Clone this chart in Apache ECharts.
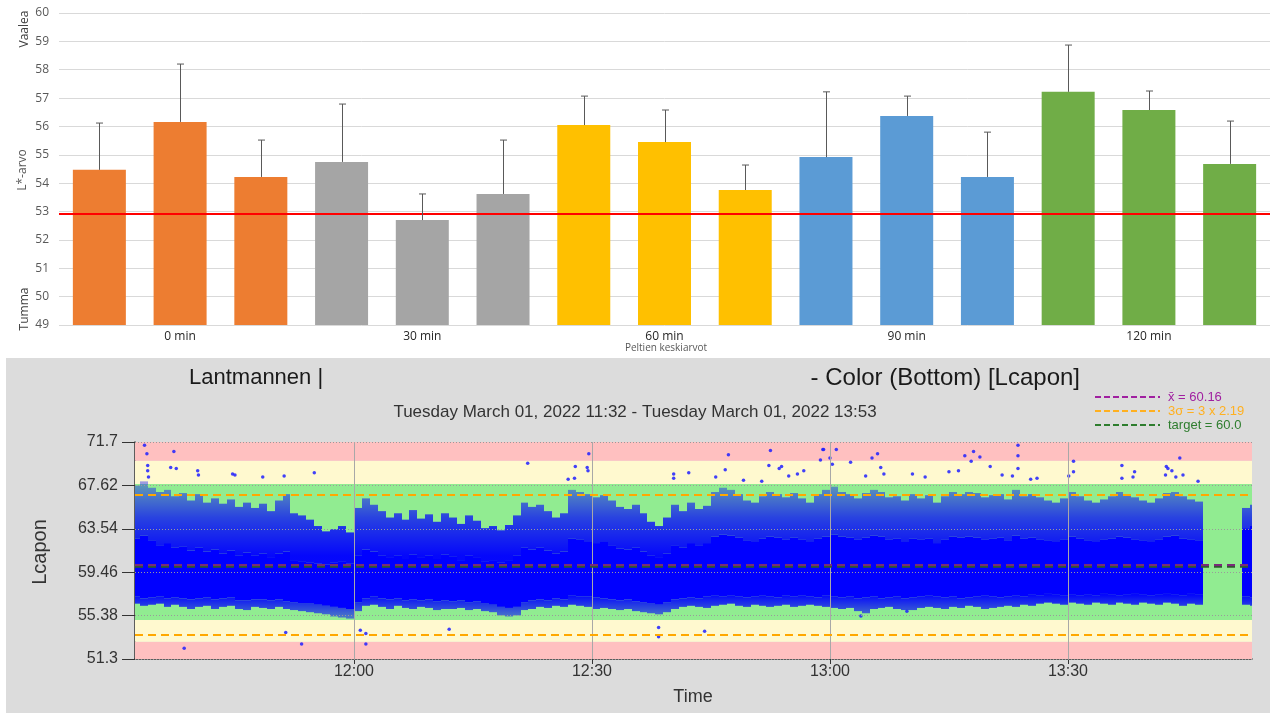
<!DOCTYPE html>
<html><head><meta charset="utf-8">
<script src="https://cdn.jsdelivr.net/npm/echarts@6/dist/echarts.min.js"></script>
<style>html,body{margin:0;padding:0;background:#fff}#c{width:1270px;height:713px}</style>
</head><body><div id="c"></div>
<script>
// ================= TOP CHART DATA =================
const groupLabels = ['0 min', '30 min', '60 min', '90 min', '120 min'];
const barValues   = [54.47, 56.16, 54.22, 54.75, 52.70, 53.62, 56.05, 55.45, 53.76, 54.92, 56.37, 54.22, 57.22, 56.58, 54.68];
const barErrTops  = [56.12, 58.20, 55.52, 56.79, 53.62, 55.52, 57.07, 56.58, 54.64, 57.22, 57.07, 55.80, 58.87, 57.25, 56.19];
const referenceLine = 52.92;
const topYMin = 49, topYMax = 60;

// ================= BOTTOM CHART DATA =================
// time expressed as minutes after 11:00
const timeStart = 32.4, timeEnd = 173.2;
const timeTicks = [60, 90, 120, 150];
const timeTickLabels = ['12:00', '12:30', '13:00', '13:30'];
const lTicks = [51.3, 55.38, 59.46, 63.54, 67.62, 71.7];
const lTickLabels = ['51.3', '55.38', '59.46', '63.54', '67.62', '71.7'];
const meanValue = 60.16;
const sigma = 2.19;
const targetValue = 60.0;
// zone limits (red / yellow / green / yellow / red)
const zoneLow  = [51.3, 52.93, 54.97, 67.75, 69.94];
const zoneHigh = [52.93, 54.97, 67.75, 69.94, 71.7];
const zoneKind = ['red', 'yellow', 'green', 'yellow', 'red'];

// per-minute envelope of the dense point cloud, first bin starts at 11:32
const binFirstMinute = 32;
const binHi = [
 67.6, 68.0, 67.4, 67.0, 67.2, 66.6, 66.9, 66.2, 66.8, 66.0,
 66.4, 65.9, 66.3, 65.6, 66.0, 65.5, 65.9, 65.2, 66.2, 66.8,
 65.0, 64.8, 64.4, 63.8, 63.3, 63.5, 63.8, 63.2, 65.5, 66.4,
 65.8, 65.2, 64.6, 65.0, 64.4, 65.3, 64.5, 64.9, 64.2, 65.0,
 64.6, 64.0, 64.8, 64.3, 63.6, 63.8, 63.4, 63.9, 64.8, 66.0,
 65.6, 65.8, 65.2, 64.6, 65.0, 67.2, 67.0, 66.8, 66.5, 66.7,
 66.2, 65.6, 65.4, 65.8, 65.0, 64.2, 63.8, 64.6, 65.8, 65.2,
 66.0, 65.4, 65.7, 67.0, 67.4, 67.2, 66.8, 66.2, 66.0, 66.6,
 67.0, 66.8, 66.5, 66.9, 66.4, 66.0, 66.8, 67.2, 67.5, 67.0,
 66.8, 66.4, 66.9, 67.2, 67.0, 66.5, 66.6, 66.2, 66.8, 66.4,
 66.7, 66.0, 66.6, 67.0, 66.8, 67.0, 66.9, 66.5, 66.7, 66.8,
 66.3, 67.2, 66.6, 66.8, 66.5, 66.2, 66.0, 66.4, 67.0, 66.6,
 66.2, 66.0, 66.3, 66.6, 67.0, 66.8, 66.5, 66.2, 66.0, 66.4,
 66.9, 67.0, 66.6, 66.3, 66.1, null, null, null, null, null,
 65.5, 65.8];
const binCoreHi = [
 62.6, 62.9, 62.4, 62.0, 62.2, 61.8, 61.9, 61.5, 61.8, 61.4,
 61.6, 61.2, 61.5, 61.0, 61.3, 61.0, 61.2, 60.8, 61.2, 61.4,
 60.6, 60.5, 60.4, 60.3, 60.2, 60.4, 60.5, 60.3, 61.0, 61.6,
 61.4, 61.0, 60.8, 61.0, 60.7, 61.1, 60.8, 61.0, 60.7, 61.1,
 60.9, 60.6, 61.0, 60.8, 60.5, 60.6, 60.4, 60.6, 61.0, 61.8,
 61.6, 61.8, 61.5, 61.2, 61.4, 62.6, 62.5, 62.3, 62.2, 62.3,
 62.0, 61.7, 61.6, 61.8, 61.4, 61.0, 60.8, 61.2, 62.0, 61.8,
 62.2, 62.0, 62.2, 62.8, 63.0, 62.9, 62.7, 62.4, 62.3, 62.6,
 62.8, 62.7, 62.5, 62.7, 62.5, 62.3, 62.6, 62.8, 63.0, 62.8,
 62.7, 62.5, 62.7, 62.9, 62.8, 62.5, 62.6, 62.3, 62.6, 62.5,
 62.6, 62.2, 62.5, 62.8, 62.7, 62.8, 62.7, 62.5, 62.6, 62.7,
 62.4, 62.9, 62.6, 62.7, 62.5, 62.4, 62.3, 62.5, 62.8, 62.6,
 62.4, 62.3, 62.5, 62.6, 62.8, 62.7, 62.5, 62.4, 62.3, 62.5,
 62.8, 62.9, 62.6, 62.5, 62.4, null, null, null, null, null,
 63.6, 63.8];
const binCoreLo = [
 57.2, 57.0, 57.1, 57.2, 57.0, 57.1, 57.0, 56.9, 57.0, 57.1,
 56.9, 57.0, 57.1, 56.8, 56.8, 56.9, 56.9, 56.8, 56.9, 56.7,
 56.6, 56.5, 56.5, 56.4, 56.3, 56.2, 56.1, 56.0, 56.6, 57.0,
 57.2, 57.0, 56.9, 57.0, 56.8, 56.9, 56.8, 56.9, 56.7, 56.8,
 56.7, 56.8, 56.6, 56.7, 56.5, 56.4, 56.2, 56.1, 56.2, 56.6,
 56.8, 56.9, 56.8, 57.0, 56.9, 57.3, 57.2, 57.2, 57.1, 57.0,
 56.9, 56.8, 56.9, 56.7, 56.6, 56.5, 56.4, 56.6, 56.9, 57.0,
 57.1, 57.0, 57.2, 57.3, 57.2, 57.3, 57.2, 57.1, 57.2, 57.3,
 57.2, 57.1, 57.3, 57.2, 57.3, 57.2, 57.1, 57.3, 57.2, 57.1,
 57.2, 57.0, 57.1, 57.2, 57.0, 57.1, 57.2, 57.0, 57.1, 57.2,
 57.3, 57.2, 57.1, 57.2, 57.0, 57.1, 57.2, 57.3, 57.2, 57.1,
 57.2, 57.3, 57.2, 57.4, 57.3, 57.5, 57.4, 57.3, 57.4, 57.3,
 57.4, 57.3, 57.5, 57.4, 57.3, 57.4, 57.5, 57.4, 57.3, 57.4,
 57.5, 57.4, 57.3, 57.5, 57.4, null, null, null, null, null,
 57.2, 57.1];
const binLo = [
 56.5, 56.3, 56.4, 56.5, 56.2, 56.4, 56.2, 56.0, 56.2, 56.3,
 56.0, 56.2, 56.3, 56.0, 55.9, 56.2, 56.1, 56.0, 56.2, 56.0,
 55.9, 55.8, 55.7, 55.6, 55.5, 55.3, 55.2, 55.1, 55.8, 56.3,
 56.4, 56.2, 56.0, 56.3, 56.1, 56.0, 56.2, 56.1, 55.9, 56.0,
 56.0, 56.1, 55.9, 56.0, 55.8, 55.7, 55.4, 55.3, 55.4, 55.9,
 56.0, 56.2, 56.1, 56.3, 56.2, 56.4, 56.3, 56.2, 56.0, 56.1,
 56.0, 55.9, 56.0, 55.8, 55.7, 55.6, 55.5, 55.7, 56.0, 56.2,
 56.3, 56.2, 56.1, 56.3, 56.4, 56.5, 56.3, 56.2, 56.4, 56.3,
 56.2, 56.3, 56.4, 56.2, 56.3, 56.4, 56.3, 56.2, 56.1, 56.0,
 56.1, 55.8, 55.6, 56.0, 56.1, 56.2, 56.0, 55.9, 55.9, 56.1,
 56.2, 56.1, 56.0, 56.2, 56.1, 56.3, 56.2, 56.0, 56.1, 56.2,
 56.3, 56.2, 56.4, 56.3, 56.5, 56.6, 56.5, 56.4, 56.6, 56.5,
 56.4, 56.6, 56.5, 56.4, 56.6, 56.5, 56.4, 56.6, 56.5, 56.4,
 56.6, 56.5, 56.3, 56.5, 56.4, null, null, null, null, null,
 56.4, 56.3];

// isolated points outside the dense cloud
const outlierTimes = [33.6, 33.9, 37.3, 34.0, 34.0, 34.1, 36.9, 37.6, 40.3, 40.4, 44.7, 45.0, 48.5, 51.2, 55.0,
 38.6, 51.4, 53.4, 61.5, 61.5, 60.8, 81.9, 87.9, 87.8, 87.0, 89.6, 89.4, 89.5, 72.0,
 107.2, 112.5, 119.1, 118.8, 100.3, 100.3, 102.2, 106.8, 112.3, 113.6, 113.9, 114.8, 115.9, 116.7, 105.6, 109.1, 111.4,
 98.4, 98.4, 104.2, 120.8, 119.2, 120.0, 120.3, 122.6, 125.3, 126.0, 126.4, 126.8, 124.5, 130.4, 132.0, 135.0, 136.2,
 137.0, 138.1, 138.9, 137.8, 140.2, 141.7, 143.0, 143.7, 143.7, 143.7, 145.3, 146.1, 150.7, 150.7, 150.1, 156.8, 156.8,
 158.4, 158.2, 162.4, 162.6, 163.1, 164.1, 163.6, 164.5, 162.3, 166.4, 123.9, 129.7];
const outlierValues = [71.4, 70.6, 70.8, 69.5, 69.0, 68.4, 69.3, 69.2, 69.0, 68.6, 68.7, 68.6, 68.4, 68.5, 68.8,
 52.3, 53.8, 52.7, 53.7, 52.7, 54.0, 69.7, 69.4, 68.3, 68.2, 70.6, 69.3, 69.0, 54.1,
 70.5, 70.9, 71.0, 70.0, 68.7, 68.3, 68.8, 69.1, 69.5, 69.2, 69.4, 68.5, 68.7, 69.0, 68.4, 68.1, 68.0,
 54.25, 53.4, 53.9, 71.0, 71.0, 70.2, 69.6, 69.8, 70.2, 70.6, 69.3, 68.7, 68.5, 68.7, 68.4, 68.9, 69.0,
 70.4, 70.8, 70.3, 69.9, 69.4, 68.6, 68.5, 71.4, 70.4, 69.2, 68.2, 68.3, 69.9, 68.9, 68.5, 69.5, 68.3,
 68.9, 68.4, 69.4, 69.2, 69.0, 70.2, 68.4, 68.6, 68.6, 68.0, 55.35, 55.8];

// ================= STYLES =================
const groupColors = ['#ED7D31', '#A5A5A5', '#FFC000', '#5B9BD5', '#70AD47'];
const zoneColors = { red: '#FFC0C0', yellow: '#FFF9CF', green: '#91EC91' };
const FONT_TOP = '"Open Sans", sans-serif';
const FONT_BOT = '"Liberation Sans", Arial, sans-serif';

const chart = echarts.init(document.getElementById('c'), null, { renderer: 'canvas' });

const catIdx = barValues.map((_, i) => i);
const binData = [];
binHi.forEach((h, i) => {
  if (h === null) return;
  binData.push([binFirstMinute + i, h, binCoreHi[i], binCoreLo[i], binLo[i]]);
});
const zoneData = zoneLow.map((lo, i) => [lo, zoneHigh[i], i]);

function fmtTime(v) {
  const i = timeTicks.indexOf(Math.round(v));
  return i >= 0 ? timeTickLabels[i] : '';
}
function fmtL(v) {
  let best = 0;
  lTicks.forEach((t, i) => { if (Math.abs(t - v) < Math.abs(lTicks[best] - v)) best = i; });
  return lTickLabels[best];
}

const option = {
  backgroundColor: '#ffffff',
  animation: false,
  graphic: [
    { type: 'rect', z: -10, shape: { x: 6, y: 358, width: 1264, height: 355 }, style: { fill: '#dcdcdc' } },
    // top chart texts
    { type: 'text', x: 25, y: 29, rotation: Math.PI / 2, style: { text: 'Vaalea', font: '12px ' + FONT_TOP, fill: '#404040', align: 'center', verticalAlign: 'middle' } },
    { type: 'text', x: 23, y: 170, rotation: Math.PI / 2, style: { text: 'L*-arvo', font: '12px ' + FONT_TOP, fill: '#595959', align: 'center', verticalAlign: 'middle' } },
    { type: 'text', x: 25, y: 309, rotation: Math.PI / 2, style: { text: 'Tumma', font: '12px ' + FONT_TOP, fill: '#404040', align: 'center', verticalAlign: 'middle' } },
    { type: 'text', x: 666, y: 348, style: { text: 'Peltien keskiarvot', font: '10px ' + FONT_TOP, fill: '#595959', align: 'center', verticalAlign: 'middle' } },
    // bottom chart texts
    { type: 'text', x: 189, y: 378, style: { text: 'Lantmannen |', font: '22px ' + FONT_BOT, fill: '#1a1a1a', align: 'left', verticalAlign: 'middle' } },
    { type: 'text', x: 1080, y: 378, style: { text: '- Color (Bottom) [Lcapon]', font: '24px ' + FONT_BOT, fill: '#1a1a1a', align: 'right', verticalAlign: 'middle' } },
    { type: 'text', x: 635, y: 412, style: { text: 'Tuesday March 01, 2022 11:32 - Tuesday March 01, 2022 13:53', font: '17px ' + FONT_BOT, fill: '#333', align: 'center', verticalAlign: 'middle' } },
    { type: 'text', x: 40, y: 552, rotation: Math.PI / 2, style: { text: 'Lcapon', font: '20px ' + FONT_BOT, fill: '#333', align: 'center', verticalAlign: 'middle' } },
    { type: 'text', x: 693, y: 697, style: { text: 'Time', font: '18px ' + FONT_BOT, fill: '#333', align: 'center', verticalAlign: 'middle' } },
    // legend
    { type: 'line', shape: { x1: 1095, y1: 397, x2: 1160, y2: 397 }, style: { stroke: '#A020A0', lineWidth: 2, lineDash: [6, 3] } },
    { type: 'line', shape: { x1: 1095, y1: 411, x2: 1160, y2: 411 }, style: { stroke: '#FFB020', lineWidth: 2, lineDash: [6, 3] } },
    { type: 'line', shape: { x1: 1095, y1: 425, x2: 1160, y2: 425 }, style: { stroke: '#2E7D2E', lineWidth: 2, lineDash: [6, 3] } },
    { type: 'text', x: 1168, y: 397, style: { text: 'x\u0304 = ' + meanValue.toFixed(2), font: '13px ' + FONT_BOT, fill: '#A020A0', verticalAlign: 'middle' } },
    { type: 'text', x: 1168, y: 411, style: { text: '3\u03c3 = 3 x ' + sigma.toFixed(2), font: '13px ' + FONT_BOT, fill: '#FFB020', verticalAlign: 'middle' } },
    { type: 'text', x: 1168, y: 425, style: { text: 'target = ' + targetValue.toFixed(1), font: '13px ' + FONT_BOT, fill: '#2E7D2E', verticalAlign: 'middle' } }
  ],
  grid: [
    { left: 59, top: 13, width: 1211, height: 312 },
    { left: 135, top: 442, width: 1117, height: 217 }
  ],
  xAxis: [
    {
      gridIndex: 0, type: 'category', data: catIdx,
      axisLine: { show: false }, axisTick: { show: false },
      axisLabel: { interval: 0, margin: 6, color: '#262626', fontSize: 12, fontFamily: FONT_TOP,
        formatter: (v, idx) => idx % 3 === 1 ? groupLabels[(idx - 1) / 3] : '' }
    },
    {
      gridIndex: 1, type: 'value', min: timeStart, max: timeEnd,
      axisLine: { lineStyle: { color: '#333', width: 1.5 } },
      axisTick: { customValues: timeTicks, length: 5, lineStyle: { color: '#333' } },
      axisLabel: { customValues: timeTicks, formatter: fmtTime, color: '#333', fontSize: 16, fontFamily: FONT_BOT, margin: 5 },
      splitLine: { show: false }
    }
  ],
  yAxis: [
    {
      gridIndex: 0, type: 'value', min: topYMin, max: topYMax, interval: 1,
      axisLine: { show: false }, axisTick: { show: false },
      axisLabel: { color: '#595959', fontSize: 12, fontFamily: FONT_TOP, margin: 10 },
      splitLine: { lineStyle: { color: '#d9d9d9', width: 1 } }
    },
    {
      gridIndex: 1, type: 'value', min: 51.3, max: 71.7,
      axisLine: { show: true, lineStyle: { color: '#333', width: 1.5 } },
      axisTick: { show: true, customValues: lTicks, length: 13, lineStyle: { color: '#333' } },
      axisLabel: { customValues: lTicks, formatter: fmtL, color: '#333', fontSize: 16, fontFamily: FONT_BOT, margin: 17 },
      splitLine: { show: false }
    }
  ],
  series: [
    // ---- top chart ----
    {
      type: 'bar', xAxisIndex: 0, yAxisIndex: 0, barWidth: 53,
      data: barValues.map((v, i) => ({ value: v, itemStyle: { color: groupColors[Math.floor(i / 3)] } })),
      markLine: {
        silent: true, symbol: 'none', label: { show: false },
        lineStyle: { color: '#ff0000', width: 2, type: 'solid' },
        data: [{ yAxis: referenceLine }]
      }
    },
    {
      type: 'custom', xAxisIndex: 0, yAxisIndex: 0, z: 5,
      data: catIdx.map(i => [i, barErrTops[i], barValues[i]]),
      renderItem: (params, api) => {
        const top = api.coord([api.value(0), api.value(1)]);
        const base = api.coord([api.value(0), api.value(2)]);
        const x = Math.round(top[0]) + 0.5;
        return { type: 'group', children: [
          { type: 'line', shape: { x1: x, y1: top[1], x2: x, y2: base[1] }, style: { stroke: '#595959', lineWidth: 1 } },
          { type: 'line', shape: { x1: x - 3.5, y1: top[1], x2: x + 3.5, y2: top[1] }, style: { stroke: '#595959', lineWidth: 1 } }
        ] };
      }
    },
    // ---- bottom chart: zones ----
    {
      type: 'custom', xAxisIndex: 1, yAxisIndex: 1, z: 1, silent: true,
      data: zoneData,
      renderItem: (params, api) => {
        const cs = params.coordSys;
        const yTop = api.coord([timeStart, api.value(1)])[1];
        const yBot = api.coord([timeStart, api.value(0)])[1];
        return { type: 'rect', shape: { x: cs.x, y: yTop, width: cs.width, height: yBot - yTop },
          style: { fill: zoneColors[zoneKind[api.value(2)]] } };
      },
      markLine: {
        silent: true, symbol: 'none', label: { show: false },
        data: [
          ...lTicks.map(v => ({ yAxis: v, lineStyle: { color: '#9a9a9a', width: 1, type: [1, 2] } })),
          ...timeTicks.map(v => ({ xAxis: v, lineStyle: { color: '#a8a8a8', width: 1, type: 'solid' } }))
        ]
      }
    },
    // ---- bottom chart: dense point cloud envelope ----
    {
      type: 'custom', xAxisIndex: 1, yAxisIndex: 1, z: 3, silent: true,
      data: binData,
      renderItem: (params, api) => {
        const t = api.value(0);
        const pHi = api.coord([t, api.value(1)]);
        const pCh = api.coord([t, api.value(2)]);
        const pCl = api.coord([t, api.value(3)]);
        const pLo = api.coord([t, api.value(4)]);
        const x0 = Math.round(pHi[0]);
        const x1 = Math.round(api.coord([t + 1, api.value(1)])[0]);
        const w = x1 - x0;
        const gUpTop = api.coord([t, 67.5])[1], gUpBot = api.coord([t, 61.0])[1];
        const gDnTop = api.coord([t, 57.3])[1], gDnBot = api.coord([t, 55.3])[1];
        const cs = params.coordSys;
        const clip = r => echarts.graphic.clipRectByRect(r, cs);
        const children = [];
        const up = clip({ x: x0, y: pHi[1], width: w, height: pCh[1] - pHi[1] });
        if (up) children.push({ type: 'rect', shape: up, style: { fill: new echarts.graphic.LinearGradient(0, gUpTop, 0, gUpBot, [
          { offset: 0, color: 'rgba(0,0,255,0.38)' }, { offset: 0.45, color: 'rgba(0,0,255,0.72)' }, { offset: 1, color: 'rgba(0,0,255,0.97)' }], true) } });
        const core = clip({ x: x0, y: pCh[1], width: w, height: pCl[1] - pCh[1] });
        if (core) children.push({ type: 'rect', shape: core, style: { fill: '#0000ff' } });
        const dn = clip({ x: x0, y: pCl[1], width: w, height: pLo[1] - pCl[1] });
        if (dn) children.push({ type: 'rect', shape: dn, style: { fill: new echarts.graphic.LinearGradient(0, gDnTop, 0, gDnBot, [
          { offset: 0, color: 'rgba(0,0,255,0.97)' }, { offset: 1, color: 'rgba(0,0,255,0.5)' }], true) } });
        return { type: 'group', children };
      }
    },
    {
      type: 'scatter', xAxisIndex: 1, yAxisIndex: 1, z: 4, silent: true,
      symbol: 'circle', symbolSize: 3.5,
      itemStyle: { color: '#2020ff', opacity: 0.85 },
      data: outlierTimes.map((t, i) => [t, outlierValues[i]])
    },
    // ---- bottom chart: control lines ----
    {
      type: 'line', xAxisIndex: 1, yAxisIndex: 1, z: 6, data: [], silent: true,
      markLine: {
        silent: true, symbol: 'none', label: { show: false },
        data: [
          { yAxis: meanValue + 3 * sigma, lineStyle: { color: '#FFA800', width: 2, type: [8, 5] } },
          { yAxis: meanValue - 3 * sigma, lineStyle: { color: '#FFA800', width: 2, type: [8, 5] } },
          { yAxis: targetValue, lineStyle: { color: '#2F5A2F', width: 2.5, type: [8, 5] } },
          { yAxis: meanValue, lineStyle: { color: '#7A2A7A', width: 2, type: [8, 5] } }
        ]
      }
    }
  ]
};
chart.setOption(option);
</script>
</body></html>
